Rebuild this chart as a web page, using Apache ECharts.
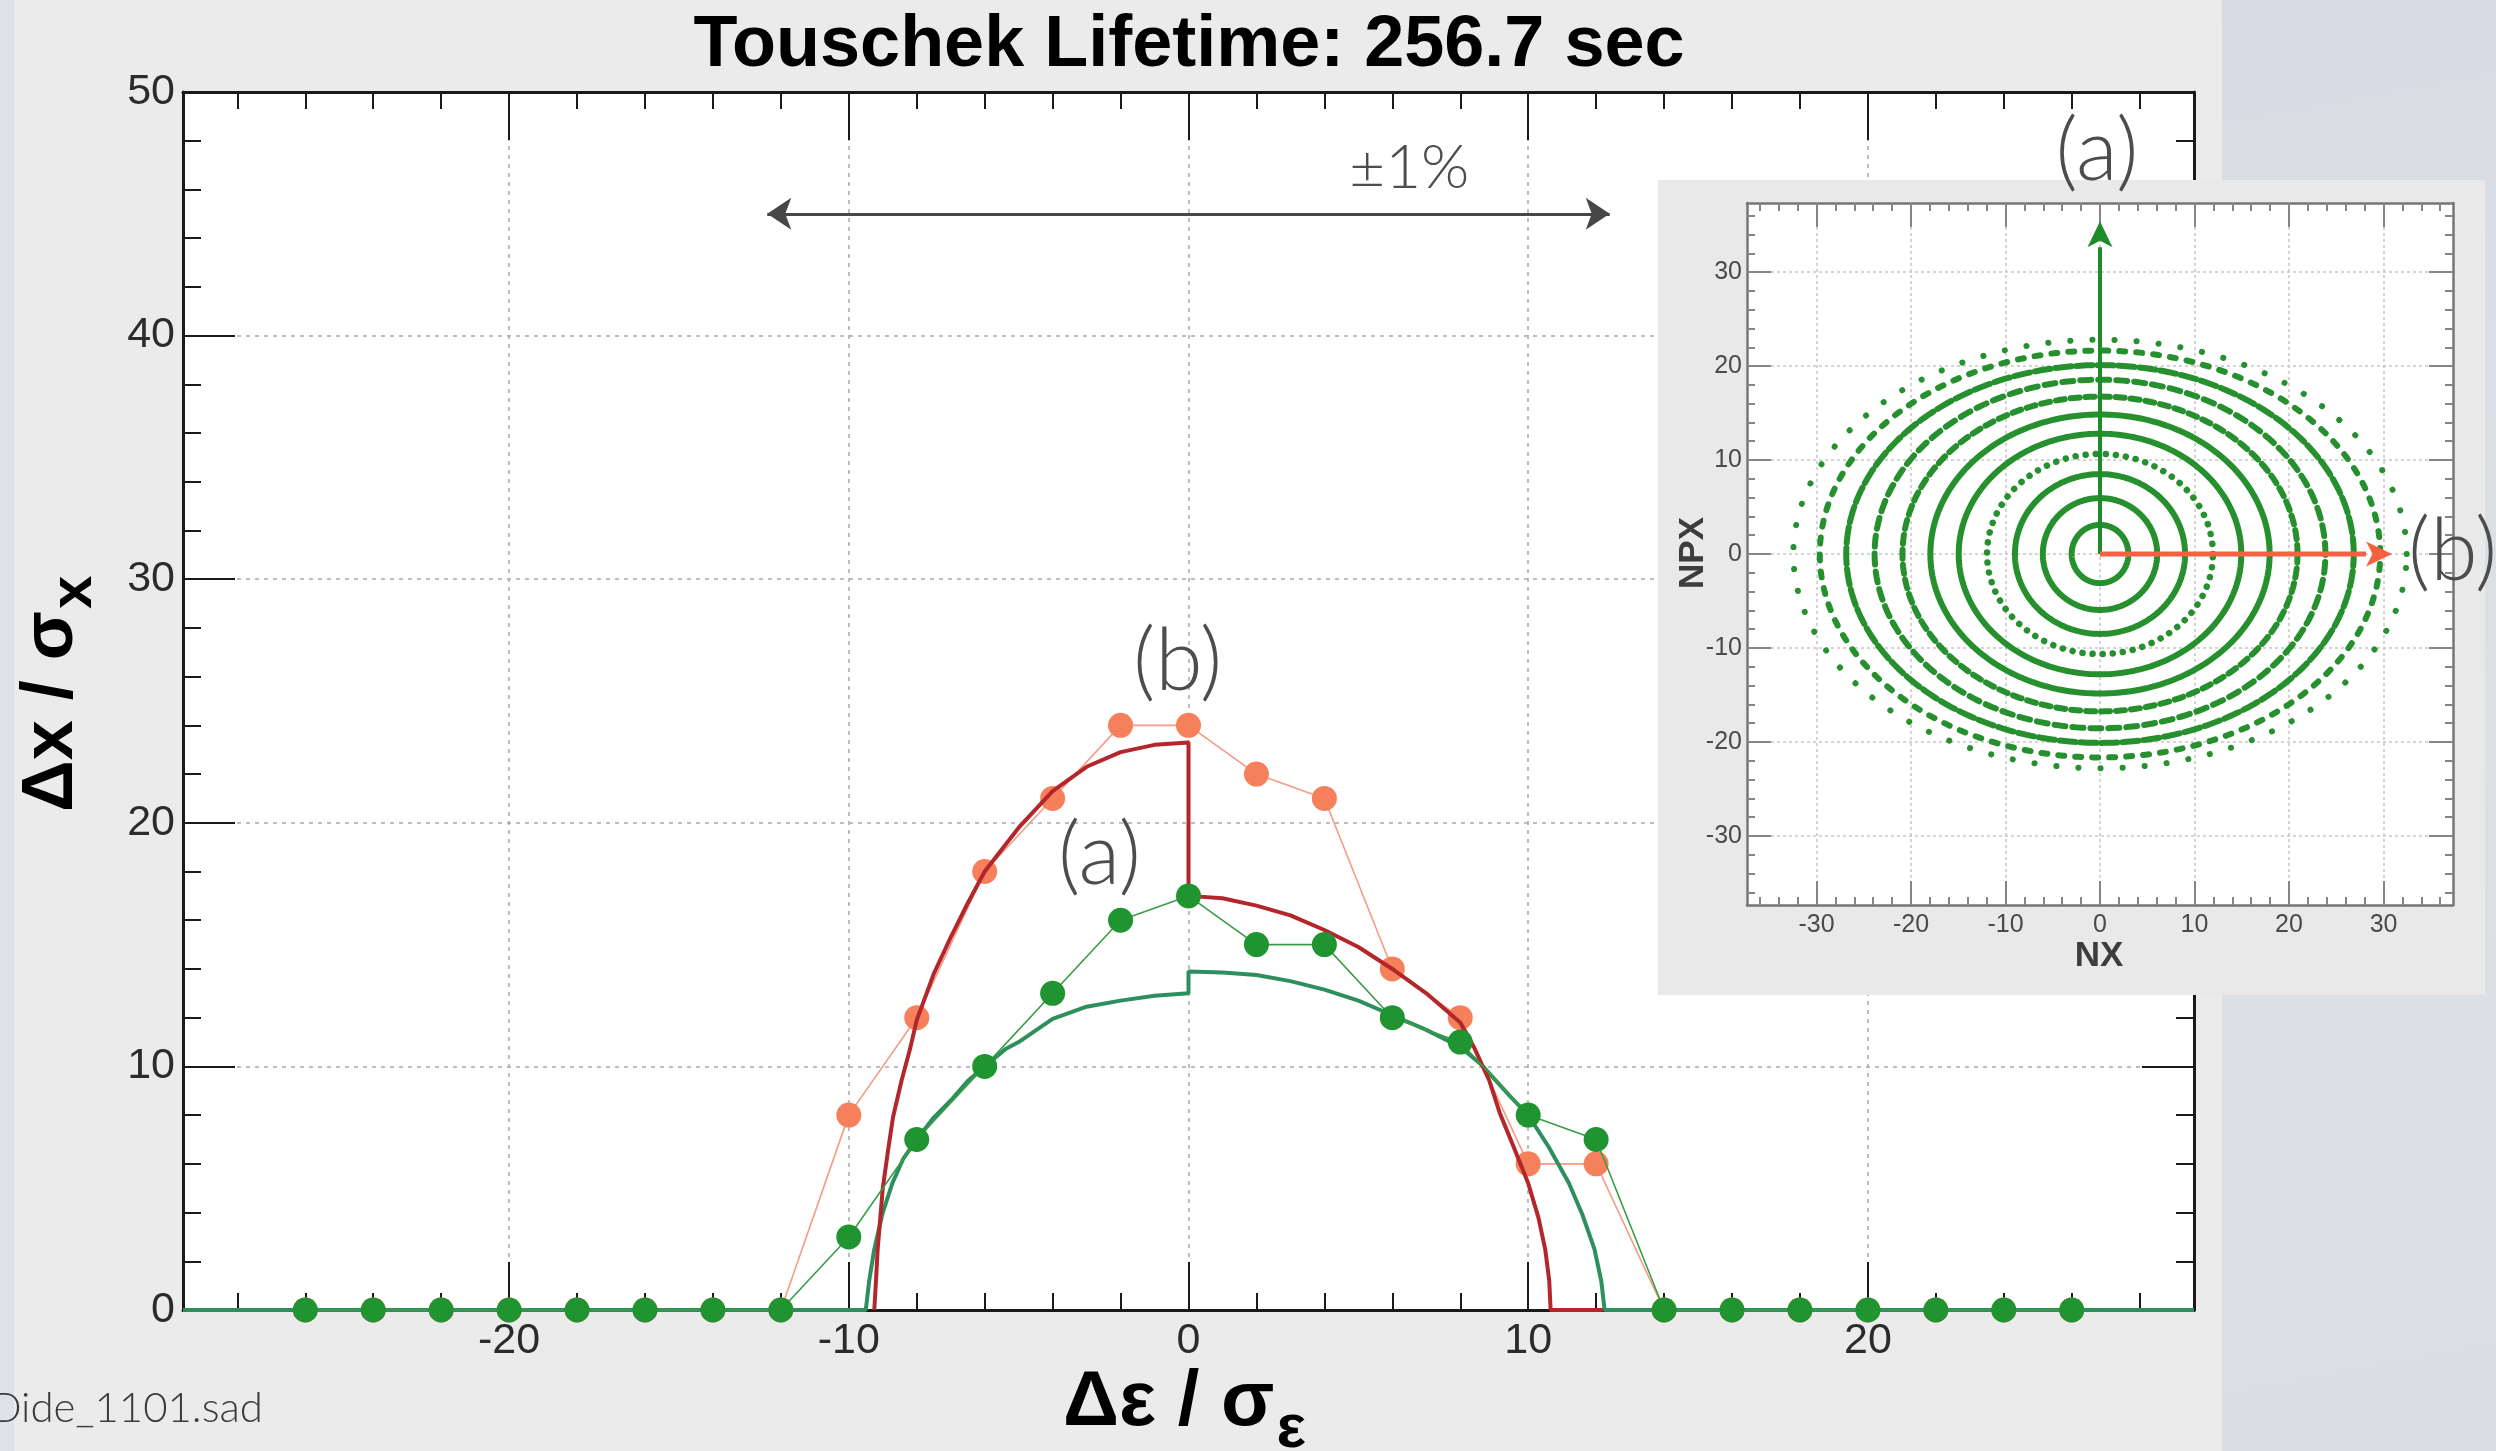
<!DOCTYPE html>
<html>
<head>
<meta charset="utf-8">
<title>Touschek Lifetime</title>
<script src="https://cdn.jsdelivr.net/npm/echarts@6/dist/echarts.min.js"></script>
<style>
  html, body { margin: 0; padding: 0; background: #dde2e8; }
  #main { width: 2496px; height: 1451px; }
</style>
</head>
<body>
<div id="main"></div>
<script>
// tracked energy offsets (Δε/σε)
const epsSteps = [-26, -24, -22, -20, -18, -16, -14, -12, -10, -8, -6, -4, -2, 0,
                  2, 4, 6, 8, 10, 12, 14, 16, 18, 20, 22, 24, 26];
// aperture found by tracking, case (b) horizontal kick and case (a) vertical kick
const apertureB = [0, 0, 0, 0, 0, 0, 0, 0, 8, 12, 18, 21, 24, 24, 22, 21, 14, 12, 6, 6, 0, 0, 0, 0, 0, 0, 0];
const apertureA = [0, 0, 0, 0, 0, 0, 0, 0, 3, 7, 10, 13, 16, 17, 15, 15, 12, 11, 8, 7, 0, 0, 0, 0, 0, 0, 0];

// computed apertures (continuous curves), [Δε/σε, Δx/σx]
const curveRed = [
  [-9.25, 0], [-9.2, 1.2], [-9.15, 2.5], [-9.0, 5.0], [-8.85, 6.5], [-8.7, 7.9], [-8.45, 9.4],
  [-8.2, 10.7], [-8, 11.9], [-7.5, 13.8], [-7, 15.3], [-6.5, 16.7], [-6, 18.0], [-5, 19.8],
  [-4, 21.3], [-3, 22.3], [-2, 22.9], [-1, 23.2], [0, 23.3], [0, 17.0], [1, 16.9], [2, 16.6],
  [3, 16.2], [4, 15.6], [5, 14.9], [6, 14.0], [7, 13.0], [8, 11.8], [8.4, 10.8], [8.86, 9.4],
  [9.16, 8.1], [9.6, 6.6], [10, 5.2], [10.3, 3.8], [10.5, 2.5], [10.62, 1.2], [10.66, 0], [12.2, 0]
];
const curveTeal = [
  [-29.6, 0], [-9.5, 0], [-9.4, 1.2], [-9.25, 2.5], [-9.0, 4.0], [-8.72, 5.2], [-8.4, 6.2],
  [-8, 7.0], [-7.5, 7.9], [-7, 8.6], [-6.5, 9.4], [-6, 10.0], [-5.4, 10.7], [-5, 11.0],
  [-4, 11.95], [-3, 12.45], [-2, 12.7], [-1, 12.9], [0, 13.0], [0, 13.9], [1, 13.85], [2, 13.75],
  [3, 13.5], [4, 13.15], [5, 12.7], [6, 12.1], [7, 11.5], [8, 10.8], [8.6, 10.1], [9.45, 8.8],
  [10, 8.0], [10.6, 6.7], [11.2, 5.2], [11.6, 3.9], [11.95, 2.5], [12.15, 1.2], [12.25, 0], [29.6, 0]
];

// inset: particle rings in normalized phase space, semi-axes
const ringNX  = [3.0, 6.05, 9.0, 11.95, 14.95, 17.95, 20.9, 23.85, 26.85, 29.65, 32.45];
const ringNPX = [3.1, 5.95, 8.5, 10.65, 12.8, 14.85, 16.75, 18.55, 20.1, 21.65, 22.8];

// tick values
const mainMajorX = [-20, -10, 0, 10, 20];
const mainMinorX = [-28, -26, -24, -22, -18, -16, -14, -12, -8, -6, -4, -2,
                    2, 4, 6, 8, 12, 14, 16, 18, 22, 24, 26, 28];
const mainMajorY = [0, 10, 20, 30, 40, 50];
const mainMinorY = [2, 4, 6, 8, 12, 14, 16, 18, 22, 24, 26, 28, 32, 34, 36, 38, 42, 44, 46, 48];
const insetMajor = [-30, -20, -10, 0, 10, 20, 30];
const insetMinor = [-36, -34, -32, -28, -26, -24, -22, -18, -16, -14, -12, -8, -6, -4, -2,
                    2, 4, 6, 8, 12, 14, 16, 18, 22, 24, 26, 28, 32, 34, 36];

// annotation anchors (data coords)
const spanArrow = [[-12.4, 45], [12.4, 45]];
const kickA = [0, 0, 0, 35.4];   // from (NX, NPX) to (NX, NPX)
const kickB = [0, 0, 30.9, 0];

const mainRangeX = [-29.6, 29.6];
const mainRangeY = [0, 50];
const insetRange = [-37.35, 37.35];

const sans = '"Liberation Sans", Arial, Helvetica, sans-serif';
const light = 'Lato, "Open Sans", sans-serif';

const ringLook = [
  { w: 6, dash: null }, { w: 6, dash: null }, { w: 6, dash: null },
  { w: 6.5, dash: [0.1, 10] }, { w: 6, dash: null }, { w: 6, dash: null },
  { w: 6, dash: [9, 6] }, { w: 6, dash: [11, 7] }, { w: 6, dash: [16, 5] },
  { w: 6, dash: [6, 11] }, { w: 6, dash: [0.1, 22] }
];

const mainLook = {
  frame: { color: '#1a1a1a', width: 3 },
  tick: { color: '#1a1a1a', width: 2 },
  split: { color: '#a9a9a9', width: 1.5, type: [4, 5] }
};
const insetLook = {
  frame: { color: '#767676', width: 2.5 },
  tick: { color: '#858585', width: 2 },
  split: { color: '#c6c6c6', width: 1.5, type: [3, 3] }
};

function mkAxis(grid, pos, range, ticks, len, look, withLine, label, z) {
  return {
    type: 'value', gridIndex: grid, position: pos, min: range[0], max: range[1],
    zlevel: z, silent: true,
    axisLine: { show: withLine, onZero: false, lineStyle: look.frame },
    axisTick: { show: true, inside: true, length: len, customValues: ticks, lineStyle: look.tick },
    axisLabel: label ? Object.assign({ show: true, customValues: ticks }, label) : { show: false },
    splitLine: label ? { show: true, lineStyle: look.split } : { show: false }
  };
}

const mainLabel = { color: '#2b2b2b', fontSize: 43, fontFamily: sans };
const insetLabel = { color: '#4a4a4a', fontSize: 25, fontFamily: sans };

const xAxes = [
  mkAxis(0, 'bottom', mainRangeX, mainMajorX, 48, mainLook, true, Object.assign({ margin: 10 }, mainLabel), 0),
  mkAxis(0, 'bottom', mainRangeX, mainMinorX, 17, mainLook, false, null, 0),
  mkAxis(0, 'top', mainRangeX, mainMajorX, 48, mainLook, true, null, 0),
  mkAxis(0, 'top', mainRangeX, mainMinorX, 17, mainLook, false, null, 0),
  mkAxis(1, 'bottom', insetRange, insetMajor, 24, insetLook, true, Object.assign({ margin: 8 }, insetLabel), 1),
  mkAxis(1, 'bottom', insetRange, insetMinor, 8, insetLook, false, null, 1),
  mkAxis(1, 'top', insetRange, insetMajor, 24, insetLook, true, null, 1),
  mkAxis(1, 'top', insetRange, insetMinor, 8, insetLook, false, null, 1)
];
const yAxes = [
  mkAxis(0, 'left', mainRangeY, mainMajorY, 52, mainLook, true, Object.assign({ margin: 8 }, mainLabel), 0),
  mkAxis(0, 'left', mainRangeY, mainMinorY, 18, mainLook, false, null, 0),
  mkAxis(0, 'right', mainRangeY, mainMajorY, 52, mainLook, true, null, 0),
  mkAxis(0, 'right', mainRangeY, mainMinorY, 18, mainLook, false, null, 0),
  mkAxis(1, 'left', insetRange, insetMajor, 24, insetLook, true, Object.assign({ margin: 5 }, insetLabel), 1),
  mkAxis(1, 'left', insetRange, insetMinor, 8, insetLook, false, null, 1),
  mkAxis(1, 'right', insetRange, insetMajor, 24, insetLook, true, null, 1),
  mkAxis(1, 'right', insetRange, insetMinor, 8, insetLook, false, null, 1)
];

const noteStyle = { color: '#4d4d4d', fontFamily: light, fontWeight: 300 };

function note(coord, text, size) {
  return {
    coord: coord, value: text, symbol: 'circle', symbolSize: 1,
    itemStyle: { color: 'rgba(0,0,0,0)' },
    label: Object.assign({ show: true, position: 'inside', formatter: text, fontSize: size }, noteStyle)
  };
}

// axis title with a lowered subscript
function axisName(main, sub, pad) {
  return {
    m: { fontSize: main, fontWeight: 'bold', fontFamily: sans, color: '#000', verticalAlign: 'top' },
    s: { fontSize: sub, fontWeight: 'bold', fontFamily: sans, color: '#000', verticalAlign: 'top', padding: [pad, 0, 0, 2] }
  };
}

// arrow drawn in the inset's own axes
function arrowItem(color, width, head) {
  return function (params, api) {
    const p0 = api.coord([api.value(0), api.value(1)]);
    const p1 = api.coord([api.value(2), api.value(3)]);
    const dx = p1[0] - p0[0], dy = p1[1] - p0[1];
    const len = Math.sqrt(dx * dx + dy * dy);
    const ux = dx / len, uy = dy / len;
    const bx = p1[0] - ux * head, by = p1[1] - uy * head;
    const hw = head * 0.48;
    return {
      type: 'group',
      children: [
        { type: 'line', shape: { x1: p0[0], y1: p0[1], x2: bx, y2: by }, style: { stroke: color, lineWidth: width } },
        { type: 'polygon', shape: { points: [p1, [bx - uy * hw, by + ux * hw], [p1[0] - ux * head * 0.75, p1[1] - uy * head * 0.75], [bx + uy * hw, by - ux * hw]] },
          style: { fill: color } }
      ]
    };
  };
}

const chart = echarts.init(document.getElementById('main'));
chart.setOption({
  animation: false,
  backgroundColor: '#dde2e8',
  grid: [
    { left: 183, top: 92, width: 2011, height: 1218, show: true, backgroundColor: '#ffffff', borderWidth: 0, zlevel: 0 },
    { left: 1747, top: 203, width: 706, height: 702, show: true, backgroundColor: '#ffffff', borderWidth: 0, zlevel: 1 }
  ],
  xAxis: xAxes,
  yAxis: yAxes,
  graphic: [
    { type: 'rect', zlevel: 0, z: -10, silent: true, shape: { x: 14, y: 0, width: 2208, height: 1451 }, style: { fill: '#ebebeb' } },
    { type: 'rect', zlevel: 0, z: -10, silent: true, shape: { x: 2222, y: 0, width: 274, height: 1451 },
      style: { fill: new echarts.graphic.LinearGradient(0, 0, 1, 1, [
        { offset: 0, color: '#d6dce3' }, { offset: 0.5, color: '#dde1e6' }, { offset: 1, color: '#d9dee4' }]) } },
    { type: 'rect', zlevel: 1, z: -10, silent: true, shape: { x: 1658, y: 180, width: 827, height: 815 }, style: { fill: '#e9e9e9' } },
    { type: 'text', zlevel: 0, z: 10, x: 1189, y: 46, silent: true,
      style: { text: 'Touschek Lifetime: 256.7 sec', fontSize: 72, fontWeight: 'bold', fontFamily: sans, fill: '#000', align: 'center', verticalAlign: 'middle' } },
    { type: 'text', zlevel: 0, z: 10, x: 16, y: 812, rotation: Math.PI / 2, silent: true,
      style: { text: '{m|Δx / σ}{s|x}', rich: axisName(72, 60, 28), align: 'left', verticalAlign: 'top' } },
    { type: 'text', zlevel: 0, z: 10, x: 1063, y: 1364, silent: true,
      style: { text: '{m|Δε / σ}{s|ε}', rich: axisName(78, 62, 35), align: 'left', verticalAlign: 'top' } },
    { type: 'text', zlevel: 0, z: 10, x: 263, y: 1408, silent: true,
      style: { text: 'Dide_1101.sad', fontSize: 42, fontFamily: light, fontWeight: 300, fill: '#3a3a3a', align: 'right', verticalAlign: 'middle' } },
    { type: 'text', zlevel: 1, z: 10, x: 1693, y: 553, rotation: Math.PI / 2, silent: true,
      style: { text: 'NPX', fontSize: 35, fontWeight: 'bold', fontFamily: sans, fill: '#3d3d3d', align: 'center', verticalAlign: 'middle' } },
    { type: 'text', zlevel: 1, z: 10, x: 2099, y: 956, silent: true,
      style: { text: 'NX', fontSize: 35, fontWeight: 'bold', fontFamily: sans, fill: '#3d3d3d', align: 'center', verticalAlign: 'middle' } },
    { type: 'text', zlevel: 1, z: 10, x: 2097, y: 152, silent: true,
      style: { text: '(a)', fontSize: 86, fontFamily: light, fontWeight: 300, fill: '#4d4d4d', align: 'center', verticalAlign: 'middle' } },
    { type: 'text', zlevel: 1, z: 10, x: 2408, y: 552, silent: true,
      style: { text: '(b)', fontSize: 86, fontFamily: light, fontWeight: 300, fill: '#4d4d4d', align: 'left', verticalAlign: 'middle' } }
  ],
  series: [
    {
      name: '(b) tracking', type: 'line', xAxisIndex: 0, yAxisIndex: 0, z: 2, silent: true,
      data: epsSteps.map((e, i) => [e, apertureB[i]]),
      symbol: 'circle', symbolSize: 25,
      itemStyle: { color: '#f6805c' },
      lineStyle: { color: '#f59a84', width: 1.6 }
    },
    {
      name: 'aperture (a)', type: 'line', xAxisIndex: 0, yAxisIndex: 0, z: 3, silent: true,
      data: curveTeal, showSymbol: false, symbol: 'none',
      lineStyle: { color: '#2e8f5e', width: 4 },
      markLine: {
        silent: true, symbol: ['arrow', 'arrow'], symbolSize: 24,
        lineStyle: { color: '#474747', width: 3, type: 'solid' },
        label: { show: false },
        data: [[{ coord: spanArrow[0] }, { coord: spanArrow[1] }]]
      },
      markPoint: {
        silent: true,
        data: [note([6.5, 46.9], '±1%', 62), note([-0.32, 26.6], '(b)', 86), note([-2.62, 18.64], '(a)', 86)]
      }
    },
    {
      name: 'aperture (b)', type: 'line', xAxisIndex: 0, yAxisIndex: 0, z: 4, silent: true,
      data: curveRed, showSymbol: false, symbol: 'none',
      lineStyle: { color: '#b3272b', width: 4 }
    },
    {
      name: '(a) tracking', type: 'line', xAxisIndex: 0, yAxisIndex: 0, z: 5, silent: true,
      data: epsSteps.map((e, i) => [e, apertureA[i]]),
      symbol: 'circle', symbolSize: 25,
      itemStyle: { color: '#1f9430' },
      lineStyle: { color: '#3a9c47', width: 1.6 }
    },
    {
      name: 'rings', type: 'custom', xAxisIndex: 4, yAxisIndex: 4, zlevel: 1, z: 2, silent: true,
      data: ringNX.map((a, i) => [a, ringNPX[i]]),
      renderItem: function (params, api) {
        const a = api.value(0), b = api.value(1);
        const look = ringLook[params.dataIndex];
        const pts = [];
        for (let k = 0; k <= 240; k++) {
          const t = k / 240 * Math.PI * 2;
          pts.push(api.coord([a * Math.cos(t), b * Math.sin(t)]));
        }
        return {
          type: 'polyline', shape: { points: pts },
          style: { stroke: '#26902e', lineWidth: look.w, lineDash: look.dash, lineCap: 'round', fill: 'none' }
        };
      }
    },
    {
      name: 'kick a', type: 'custom', xAxisIndex: 4, yAxisIndex: 4, zlevel: 1, z: 5, silent: true,
      encode: { x: [0, 2], y: [1, 3] },
      data: [kickA], renderItem: arrowItem('#1f8c2a', 4, 26)
    },
    {
      name: 'kick b', type: 'custom', xAxisIndex: 4, yAxisIndex: 4, zlevel: 1, z: 5, silent: true,
      encode: { x: [0, 2], y: [1, 3] },
      data: [kickB], renderItem: arrowItem('#f4623f', 5, 26)
    }
  ]
});
</script>
</body>
</html>
